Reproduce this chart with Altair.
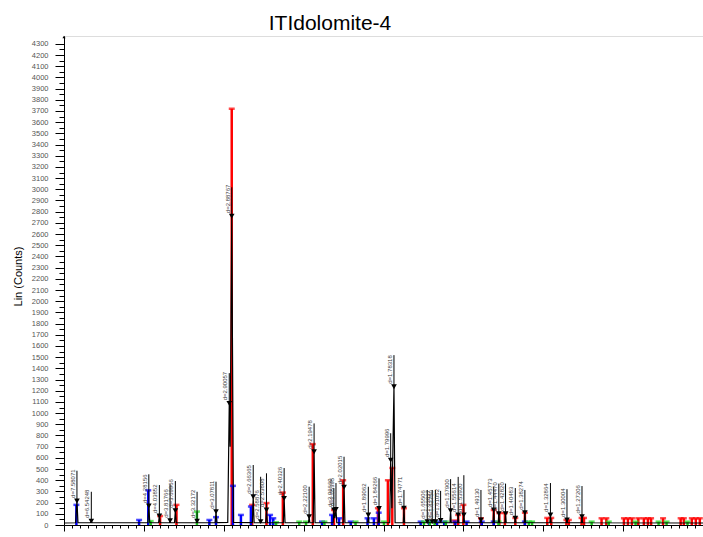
import altair as alt
import pandas as pd

# ---------------- measured scan (2-theta deg, counts) ----------------
raw_2theta = [10.00, 11.45, 11.62, 11.75, 13.30, 13.42, 13.52,
              20.50, 20.62, 20.74, 21.84, 21.94, 22.04, 23.20, 23.28, 23.36,
              23.84, 23.94, 24.06, 26.58, 26.66, 26.74, 28.93, 29.03, 29.14,
              30.50, 30.69, 30.80, 31.00, 31.22, 33.58, 33.69, 33.80,
              34.56, 34.62, 34.68, 35.25, 35.35, 35.46, 37.46, 37.56, 37.67,
              40.60, 40.69, 40.78, 41.20, 41.31, 41.43, 43.70, 43.78, 43.90,
              44.05, 44.15, 44.96, 45.06, 45.17, 48.02, 48.10, 48.18,
              49.35, 49.44, 49.53, 50.78, 50.90, 51.05, 51.31, 51.45,
              52.48, 52.56, 52.64, 55.42, 55.48, 55.54, 56.05, 56.10, 56.16,
              56.44, 56.50, 56.56, 57.08, 57.15, 57.22, 58.32, 58.40, 58.48,
              59.28, 59.35, 59.42, 59.98, 60.06, 60.14, 62.14, 62.20, 62.26,
              63.72, 63.80, 63.88, 64.36, 64.44, 64.52, 65.20, 65.28, 65.36,
              66.42, 66.50, 66.58, 67.62, 67.70, 67.78, 70.82, 70.90, 70.98,
              72.90, 72.97, 73.04, 74.78, 74.85, 74.92, 90.00]
raw_counts = [18, 20, 215, 20, 20, 35, 20,
              20, 170, 20, 20, 80, 20, 20, 38, 20,
              20, 128, 20, 20, 35, 20, 20, 119, 22,
              24, 1087, 700, 2760, 24, 22, 253, 20,
              20, 30, 20, 20, 134, 20, 20, 238, 20,
              20, 74, 20, 20, 655, 20, 20, 135, 60,
              140, 20, 20, 337, 20, 20, 89, 20,
              20, 149, 20, 20, 580, 150, 1235, 20,
              20, 150, 20, 20, 30, 20, 20, 30, 20,
              20, 30, 20, 20, 40, 20, 20, 128, 20,
              20, 90, 20, 20, 90, 20, 20, 45, 20,
              20, 134, 20, 20, 100, 20, 20, 100, 20,
              20, 60, 20, 20, 110, 20, 20, 90, 20,
              20, 45, 20, 20, 75, 20, 18]

# ---------------- peak search results ----------------
peak_2theta = [11.62, 13.42, 20.62, 21.94, 23.28, 23.94, 26.66, 29.03,
               30.69, 31.00, 33.69, 34.62, 35.35, 37.56, 40.69, 41.31,
               43.78, 44.05, 45.06, 48.10, 49.44, 50.90, 51.31, 52.56,
               55.48, 56.10, 56.50, 57.15, 58.40, 59.35, 60.06, 62.20,
               63.80, 64.44, 65.28, 66.50, 67.70, 70.90, 72.97, 74.85]
peak_counts = [215, 35, 170, 80, 38, 128, 35, 119,
               1087, 2760, 253, 30, 134, 238, 74, 655,
               135, 140, 337, 89, 149, 580, 1235, 150,
               30, 30, 30, 40, 128, 90, 90, 45,
               134, 100, 100, 60, 110, 90, 45, 75]
peak_top = [485, 297, 453, 357, 363, 393, 297, 387,
            1357, 3018, 536, 431, 462, 509, 342, 908,
            330, 375, 610, 342, 417, 820, 1518, 313,
            313, 313, 313, 305, 410, 430, 445, 313,
            340, 370, 370, 330, 313, 375, 320, 348]
peak_d = ["d=7.58071", "d=6.54248", "d=4.28156", "d=4.03852", "d=3.81766",
          "d=3.69966", "d=3.32172", "d=3.07811", "d=2.90057", "d=2.88767",
          "d=2.66365", "d=2.58876", "d=2.53808", "d=2.40326", "d=2.22100",
          "d=2.19478", "d=2.06660", "d=2.05395", "d=2.02015", "d=1.89062",
          "d=1.84266", "d=1.79996", "d=1.78318", "d=1.74771", "d=1.65506",
          "d=1.63837", "d=1.62750", "d=1.61052", "d=1.57900", "d=1.55614",
          "d=1.53920", "d=1.49130", "d=1.45773", "d=1.44470", "d=1.42820",
          "d=1.40483", "d=1.38274", "d=1.32864", "d=1.30004", "d=1.27206"]

# ---------------- reference phase sticks ----------------
red_2theta = [22.03, 24.08, 31.00, 33.55, 35.35, 37.40, 41.15, 43.80, 44.95,
              49.30, 50.55, 51.10, 52.56, 58.90, 59.35, 60.00, 62.20, 63.80,
              64.50, 65.20, 66.50, 67.70, 70.50, 71.00, 72.90, 73.20, 74.80,
              75.10, 77.30, 77.90, 80.10, 80.60, 81.10, 81.90, 82.60, 83.10,
              83.50, 85.00, 87.20, 87.60, 88.60, 89.10, 89.60]
red_counts = [80, 180, 3720, 180, 196, 290, 723, 134, 400,
              150, 400, 510, 150, 40, 90, 180, 60, 134,
              107, 107, 63, 110, 63, 63, 45, 45, 63,
              63, 60, 60, 60, 60, 60, 60, 60, 60,
              60, 60, 60, 60, 60, 60, 60]
blue_2theta = [11.55, 19.40, 20.55, 28.20, 29.03, 31.15, 32.15, 33.40, 35.80,
               36.20, 42.30, 43.56, 44.44, 45.90, 48.00, 48.80, 49.40, 54.65,
               55.70, 56.70, 57.60, 59.00, 60.40, 62.30, 63.80, 67.70]
blue_counts = [180, 45, 310, 45, 70, 350, 90, 165, 90,
               60, 30, 90, 60, 30, 60, 60, 110, 30,
               30, 30, 30, 30, 30, 30, 30, 30]
green_2theta = [20.85, 26.64, 36.55, 39.45, 40.30, 42.60, 46.50, 50.06, 55.06,
                55.80, 56.40, 57.80, 64.40, 68.20, 68.60, 76.06, 78.20, 81.56,
                84.44, 85.44, 88.06]
green_counts = [35, 120, 25, 30, 30, 30, 30, 30, 30,
                30, 30, 30, 30, 30, 30, 30, 30, 30,
                30, 30, 30]

chart_title = ["ITIdolomite-4"]

RED, BLUE, GREEN = "#ff0000", "#0000ff", "#1ed81e"

raw = pd.DataFrame({"tt": raw_2theta, "ct": raw_counts})
peaks = pd.DataFrame({"tt": peak_2theta, "ct": peak_counts,
                      "top": peak_top, "d": peak_d})
sticks = pd.concat([
    pd.DataFrame({"tt": red_2theta, "ct": red_counts, "col": RED}),
    pd.DataFrame({"tt": blue_2theta, "ct": blue_counts, "col": BLUE}),
    pd.DataFrame({"tt": green_2theta, "ct": green_counts, "col": GREEN}),
], ignore_index=True)
sticks["base"] = 0
heading = pd.DataFrame({"t": chart_title})

FONT = "Liberation Sans"
xscale = alt.Scale(domain=[10, 90], nice=False, zero=False)
yscale = alt.Scale(domain=[0, 4370], nice=False)

x_axis = alt.Axis(
    values=list(range(10, 91)), tickCount=1000,
    labelExpr="datum.value % 10 === 0 ? datum.label : ''",
    tickSize={"condition": {"test": "datum.value % 10 === 0", "value": 6}, "value": 3},
    labelOverlap=False, labelBound=False,
    labelFontSize=7, labelColor="#555", labelFont=FONT, labelPadding=5,
    domainColor="black", tickColor="black", grid=False, title=None,
)
y_axis = alt.Axis(
    values=list(range(0, 4301, 50)), tickCount=1000,
    format="d",
    labelExpr="datum.value % 100 === 0 ? datum.label : ''",
    tickSize={"condition": {"test": "datum.value % 100 === 0", "value": 9}, "value": 5},
    labelOverlap=False, labelBound=False,
    labelFontSize=7.5, labelColor="#555", labelFont=FONT, labelPadding=7,
    domainColor="black", tickColor="black", grid=False,
    title="Lin (Counts)", titleFont=FONT, titleFontSize=11,
    titleFontWeight="normal", titleColor="black",
    titleX=-46, titleY=240, titleBaseline="middle",
)

base_x = alt.X("tt:Q", scale=xscale, axis=x_axis)

stick_rules = alt.Chart(sticks).mark_rule(strokeWidth=2.5).encode(
    x=base_x,
    y=alt.Y("ct:Q", scale=yscale, axis=y_axis),
    y2="base:Q",
    color=alt.Color("col:N", scale=None),
)
stick_caps = alt.Chart(sticks).mark_tick(orient="horizontal", size=6, thickness=2.5).encode(
    x="tt:Q", y="ct:Q", color=alt.Color("col:N", scale=None),
)
scan = alt.Chart(raw).mark_line(color="black", strokeWidth=1.2).encode(
    x="tt:Q", y="ct:Q", order="tt:Q",
)
label_lines = alt.Chart(peaks).mark_rule(color="black", strokeWidth=1).encode(
    x="tt:Q", y="ct:Q", y2="top:Q",
)
markers = alt.Chart(peaks).mark_point(
    shape="triangle-down", filled=True, color="black", size=32, opacity=1
).encode(x="tt:Q", y="ct:Q")
labels = alt.Chart(peaks).mark_text(
    angle=270, align="left", baseline="bottom", dx=3, dy=-1,
    fontSize=6, font=FONT, color="#3a3a3a",
).encode(x="tt:Q", y="ct:Q", text="d:N")
arrow = alt.Chart(heading).mark_point(
    shape="triangle-up", filled=True, color="black", size=10, opacity=1
).encode(x=alt.value(0), y=alt.value(1))
title_text = alt.Chart(heading).mark_text(
    font=FONT, fontSize=21, color="black", align="center", baseline="alphabetic",
).encode(x=alt.value(266), y=alt.value(-6), text="t:N")

chart = alt.layer(
    stick_rules, stick_caps, scan, label_lines, markers, labels, arrow, title_text
).properties(
    width=639, height=489,
    autosize=alt.AutoSizeParams(type="none"),
    padding={"left": 64, "top": 36, "right": 0, "bottom": 12},
).configure_view(stroke=None).configure(background="white")

chart.save("out.html", embed_options={"renderer": "svg", "actions": False})
